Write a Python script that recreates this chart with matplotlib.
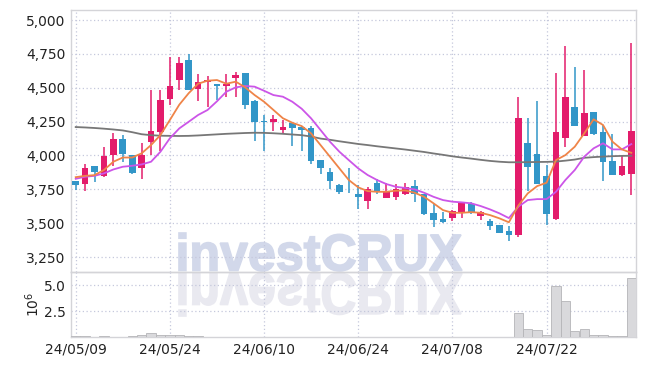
import matplotlib
matplotlib.use("Agg")
import matplotlib.pyplot as plt
from matplotlib.textpath import TextPath
from matplotlib.patches import PathPatch
from matplotlib.font_manager import FontProperties
from matplotlib.transforms import Affine2D, IdentityTransform
from matplotlib.ticker import FuncFormatter

# daily candles (trading-day index 0..59)
opens = [3815, 3790, 3920, 3850, 4000, 4120, 4005, 3910, 4100, 4175,
         4415, 4555, 4705, 4490, 4540, 4530, 4510, 4575, 4610, 4405,
         4255, 4250, 4185, 4240, 4210, 4200, 3965, 3875, 3780, 3740,
         3715, 3665, 3800, 3685, 3690, 3715, 3775, 3715, 3575, 3530,
         3540, 3585, 3645, 3555, 3515, 3485, 3440, 3410, 4095, 4010,
         3850, 3530, 4130, 4355, 4145, 4320, 4170, 3960, 3855, 3860]
highs = [3815, 3935, 3920, 4065, 4165, 4150, 4005, 4095, 4485, 4485,
         4725, 4730, 4750, 4600, 4585, 4530, 4600, 4620, 4610, 4410,
         4300, 4300, 4260, 4240, 4215, 4220, 3965, 3910, 3790, 3905,
         3785, 3770, 3830, 3800, 3790, 3800, 3820, 3715, 3645, 3585,
         3595, 3660, 3655, 3590, 3530, 3490, 3480, 4430, 4280, 4400,
         3930, 4610, 4805, 4655, 4630, 4320, 4225, 4160, 3995, 4830]
lows = [3745, 3740, 3805, 3840, 3925, 3955, 3865, 3825, 4005, 4030,
        4375, 4485, 4480, 4400, 4360, 4410, 4430, 4430, 4340, 4110,
        4030, 4180, 4160, 4070, 4035, 3935, 3865, 3750, 3715, 3725,
        3605, 3605, 3715, 3685, 3675, 3710, 3660, 3560, 3470, 3505,
        3515, 3540, 3565, 3525, 3450, 3430, 3370, 3400, 3740, 3790,
        3485, 3525, 4060, 4220, 4145, 4150, 3815, 3855, 3845, 3710]
closes = [3780, 3910, 3880, 3995, 4120, 4010, 3870, 4000, 4180, 4410,
          4510, 4685, 4480, 4540, 4560, 4510, 4530, 4595, 4375, 4250,
          4250, 4270, 4210, 4205, 4190, 3960, 3910, 3815, 3730, 3735,
          3695, 3755, 3740, 3730, 3755, 3770, 3715, 3565, 3525, 3510,
          3590, 3650, 3585, 3580, 3480, 3430, 3415, 4280, 3915, 3790,
          3570, 4170, 4430, 4220, 4310, 4160, 3955, 3855, 3920, 4180]

# moving averages
ma_short = [3840, 3850, 3855, 3893, 3954, 3985, 3985, 4016, 4077, 4151,
            4262, 4375, 4460, 4530, 4552, 4557, 4530, 4545, 4503, 4446,
            4397, 4336, 4275, 4242, 4217, 4163, 4077, 3991, 3905, 3819,
            3765, 3737, 3732, 3732, 3740, 3742, 3725, 3695, 3647, 3597,
            3577, 3577, 3582, 3577, 3560, 3536, 3507, 3630, 3720, 3774,
            3799, 3966, 4003, 4065, 4163, 4267, 4225, 4102, 4045, 4020]
ma_mid = [3828, 3843, 3850, 3868, 3897, 3917, 3924, 3934, 3954, 4028,
          4127, 4200, 4249, 4299, 4336, 4400, 4471, 4503, 4513, 4508,
          4478, 4446, 4434, 4397, 4345, 4274, 4188, 4102, 4028, 3966,
          3905, 3856, 3819, 3789, 3769, 3760, 3750, 3725, 3695, 3671,
          3659, 3654, 3647, 3627, 3602, 3573, 3538, 3622, 3671, 3678,
          3678, 3732, 3819, 3893, 3991, 4053, 4090, 4045, 4045, 4084]
ma_long = [4210, 4207, 4203, 4198, 4192, 4185, 4172, 4157, 4150, 4146,
           4145, 4144, 4145, 4148, 4152, 4156, 4160, 4163, 4166, 4168,
           4167, 4164, 4160, 4155, 4150, 4140, 4125, 4116, 4105, 4095,
           4085, 4077, 4068, 4060, 4052, 4044, 4035, 4026, 4015, 4005,
           3994, 3985, 3977, 3968, 3960, 3954, 3950, 3950, 3951, 3952,
           3953, 3955, 3962, 3970, 3983, 3988, 3992, 3995, 3997, 3998]

# volume in millions
volume = [0.05, 0.10, 0.03, 0.10, 0.04, 0.04, 0.05, 0.15, 0.35, 0.23,
          0.23, 0.23, 0.10, 0.10, 0.04, 0.03, 0.03, 0.03, 0.04, 0.03,
          0.03, 0.02, 0.02, 0.03, 0.02, 0.03, 0.02, 0.02, 0.02, 0.02,
          0.02, 0.02, 0.02, 0.02, 0.02, 0.02, 0.02, 0.02, 0.02, 0.02,
          0.02, 0.02, 0.02, 0.02, 0.02, 0.02, 0.03, 2.35, 0.74, 0.64,
          0.23, 4.90, 3.53, 0.55, 0.74, 0.23, 0.23, 0.13, 0.13, 5.70]

tick_pos = [0, 10, 20, 30, 40, 50]
tick_labels = ['24/05/09', '24/05/24', '24/06/10', '24/06/24', '24/07/08', '24/07/22']
price_ticks = [3250, 3500, 3750, 4000, 4250, 4500, 4750, 5000]
vol_ticks = [2.5, 5.0]

UP = '#e31c6b'
DOWN = '#3296c8'
GRID = '#c5c8dc'
SPINE = '#d4d4d8'

W, H = 645, 366
fig = plt.figure(figsize=(W / 100, H / 100), dpi=100)
fig.patch.set_facecolor('white')

ax = fig.add_axes([71 / W, 1 - 272 / H, 565 / W, 262 / H])
axv = fig.add_axes([71 / W, 1 - 337 / H, 565 / W, 65 / H], sharex=ax)
for a in (ax, axv):
    a.set_facecolor('none')
    for s in a.spines.values():
        s.set_color(SPINE)
        s.set_linewidth(1.0)
    a.tick_params(length=0, labelsize=10, colors='#222222', pad=4)
    a.grid(True, color=GRID, linestyle=(0, (1, 2)), linewidth=0.9)
    a.set_axisbelow(True)

x = list(range(len(closes)))
colors = [UP if c >= o else DOWN for o, c in zip(opens, closes)]
bottoms = [min(o, c) for o, c in zip(opens, closes)]
heights = [max(abs(c - o), 4) for o, c in zip(opens, closes)]

ax.vlines(x, lows, highs, colors=colors, linewidth=1.1, zorder=3)
ax.bar(x, heights, bottom=bottoms, width=0.7, color=colors, zorder=4)

ax.plot(x, ma_long, color='#777777', linewidth=1.3, zorder=5)
ax.plot(x, ma_mid, color='#cc55e8', linewidth=1.3, zorder=5)
ax.plot(x, ma_short, color='#ef8448', linewidth=1.3, zorder=5)

ax.set_ylim(3140, 5074)
ax.set_yticks(price_ticks)
ax.yaxis.set_major_formatter(FuncFormatter(lambda v, p: f'{int(v):,}'))
ax.set_xlim(-0.5, len(closes) - 0.5)
ax.set_xticks(tick_pos)
plt.setp(ax.get_xticklabels(), visible=False)

axv.bar(x, volume, width=1.0, color='#d9d9dc', edgecolor='#b5b5b8', linewidth=0.6, zorder=3)
axv.set_ylim(0, 6.3)
axv.set_yticks(vol_ticks)
axv.set_yticklabels(['2.5', '5.0'])
axv.set_ylabel(r'$10^{6}$', fontsize=10, color='#222222', labelpad=1)
axv.set_xticks(tick_pos)
axv.set_xticklabels(tick_labels)

# watermark with reflection, drawn in pixel coords behind the axes
fp = FontProperties(family='Liberation Sans', weight='bold')
tp = TextPath((0, 0), 'investCRUX', size=100, prop=fp)
bb = tp.get_extents()
x0, x1 = 179, 462
top, base, refl = 233, 271, 314
sx = (x1 - x0) / bb.width
sy = (base - top) / bb.height
main_tr = Affine2D().translate(-bb.x0, -bb.y0).scale(sx, sy).translate(x0, H - base)
refl_tr = Affine2D().translate(-bb.x0, -bb.y0).scale(sx, -sy * (refl - base) / (base - top)).translate(x0, H - base - 2)
fig.patches.append(PathPatch(main_tr.transform_path(tp), transform=IdentityTransform(),
                             facecolor='#d2d8ea', edgecolor='#d2d8ea', linewidth=1.2,
                             zorder=-1, figure=fig))
fig.patches.append(PathPatch(refl_tr.transform_path(tp), transform=IdentityTransform(),
                             facecolor='#e9e9f0', edgecolor='#e9e9f0', linewidth=1.2,
                             zorder=-1, figure=fig))

fig.savefig('out.png', dpi=100)
